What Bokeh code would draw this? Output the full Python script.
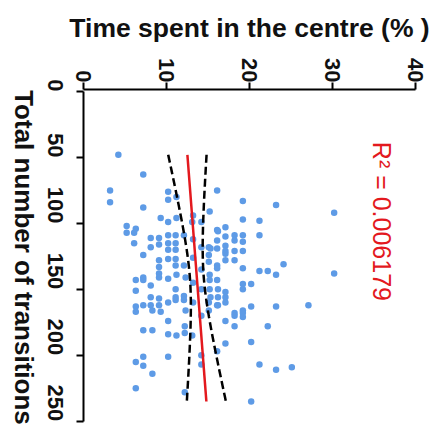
import numpy as np
from math import pi
from bokeh.plotting import figure
from bokeh.layouts import row
from bokeh.models import Range1d, Label, FixedTicker
from bokeh.embed import file_html
from bokeh.resources import INLINE

# ---- data ----
time_pct = [
    4.2, 3.2, 3.2, 7.2, 7.2, 10.2, 10.2, 11.2, 16.1, 19.2, 23.2, 30.2, 15.2, 9.3, 10.2, 11.2,
    13.2, 13.1, 14.2, 5.2, 6.3, 19.2, 21.2, 16.1, 17.1, 5.2, 6.1, 6.1, 7.2, 8.1, 8.1, 9.1,
    9.1, 10.2, 10.2, 10.2, 11.1, 11.1, 11.1, 9.1, 9.1, 10.2, 11.1, 11.1, 12.1, 15.1, 15.1, 15.1,
    6.3, 6.3, 7.2, 7.2, 8.1, 9.1, 9.1, 10.2, 11.2, 11.1, 12.3, 8.1, 8.1, 9.1, 9.1, 10.2,
    11.1, 11.1, 12.1, 12.1, 6.3, 6.3, 7.2, 12.3, 16.1, 16.2, 17.1, 18.2, 18.2, 19.2, 19.2, 21.2,
    15.3, 16.1, 17.1, 17.1, 17.1, 18.2, 19.2, 16.1, 17.1, 18.2, 19.2, 21.2, 22.2, 23.2, 24.1, 30.2,
    15.2, 15.2, 15.2, 16.1, 16.2, 16.2, 17.1, 17.1, 19.2, 19.2, 20.2, 15.3, 16.2, 17.1, 20.2, 23.2,
    27.1, 18.2, 19.2, 19.2, 8.3, 9.3, 10.2, 7.2, 8.3, 10.2, 11.2, 12.2, 12.2, 7.2, 6.3, 7.2,
    8.3, 10.2, 14.2, 14.2, 16.1, 6.3, 12.2, 17.1, 18.2, 18.2, 19.2, 22.2, 17.1, 20.2, 21.2, 23.2,
    25.1, 20.2, 12.1, 16.1, 16.1, 15.1, 15.1, 13.2, 14.2, 13.2, 14.2, 13.2, 14.2, 13.2, 14.2, 13.1,
]
transitions = [
    48, 75, 84, 63, 88, 76, 82, 80, 75, 83, 86, 92, 91, 96, 99, 96,
    94, 99, 99, 102, 104, 97, 98, 105, 103, 107, 107, 115, 124, 111, 118, 111,
    116, 109, 115, 120, 109, 115, 120, 128, 133, 127, 127, 132, 132, 118, 124, 129,
    143, 151, 141, 143, 147, 138, 141, 142, 139, 150, 141, 156, 162, 157, 162, 160,
    156, 158, 155, 158, 163, 167, 162, 166, 162, 106, 110, 109, 113, 109, 114, 109,
    119, 119, 117, 121, 123, 121, 121, 132, 128, 128, 134, 136, 136, 139, 131, 138,
    139, 143, 150, 143, 150, 156, 152, 156, 146, 150, 146, 156, 162, 160, 163, 163,
    162, 168, 166, 168, 166, 167, 174, 181, 181, 184, 185, 178, 183, 201, 205, 208,
    214, 201, 200, 207, 197, 225, 228, 174, 170, 178, 171, 178, 191, 190, 207, 211,
    209, 235, 109, 113, 134, 160, 166, 112, 118, 126, 135, 145, 150, 160, 170, 185,
]
fit_intercept = 11.93      # time = a + b * transitions
fit_slope = 0.01223
r2_text = "R\u00b2 = 0.006179"
x_title = "Time spent in the centre (% )"
y_title = "Total number of transitions"
x_ticks = [0, 10, 20, 30, 40]
y_ticks = [0, 50, 100, 150, 200, 250]

t_arr = np.array(time_pct, float)
n_arr = np.array(transitions, float)

# regression line and 95% confidence band
xs = np.linspace(n_arr.min(), n_arr.max(), 120)
fit = fit_intercept + fit_slope * xs
resid = t_arr - (fit_intercept + fit_slope * n_arr)
n = len(n_arr)
s = np.sqrt(np.sum(resid ** 2) / (n - 2))
xbar = n_arr.mean()
sxx = np.sum((n_arr - xbar) ** 2)
hw = 1.97 * s * np.sqrt(1.0 / n + (xs - xbar) ** 2 / sxx)

FONT = "Liberation Sans"

y_rng = Range1d(257, -1.5)

p = figure(width=409, height=443, output_backend="svg", toolbar_location=None,
           x_range=Range1d(0, 40), y_range=y_rng,
           x_axis_location="above", y_axis_location="left",
           min_border_left=47, min_border_right=30, min_border_top=89, min_border_bottom=13)
p.outline_line_color = None
p.xgrid.grid_line_color = None
p.ygrid.grid_line_color = None
p.background_fill_color = "white"
p.border_fill_color = "white"

for ax in (p.xaxis[0], p.yaxis[0]):
    ax.minor_tick_line_color = None
    ax.major_tick_in = 0
    ax.major_tick_out = 7
    ax.axis_line_width = 2
    ax.major_tick_line_width = 2
    ax.axis_line_color = "black"
    ax.major_tick_line_color = "black"
    ax.major_label_text_font = FONT
    ax.major_label_text_font_size = "22px"
    ax.major_label_text_font_style = "bold"
    ax.major_label_text_color = "#111111"
    ax.major_label_orientation = -pi / 2

p.xaxis.ticker = FixedTicker(ticks=x_ticks)
p.yaxis.ticker = FixedTicker(ticks=y_ticks)
p.yaxis.bounds = (0, 250)
p.xaxis.major_label_standoff = 0
p.yaxis.major_label_standoff = 21

p.xaxis.axis_label = x_title
p.xaxis.axis_label_text_font = FONT
p.xaxis.axis_label_text_font_size = "26.5px"
p.xaxis.axis_label_text_font_style = "bold"
p.xaxis.axis_label_text_color = "#111111"
p.xaxis.axis_label_standoff = 12

p.scatter(time_pct, transitions, size=6.5, fill_color="#5e9be6", line_color=None)
p.line(fit, xs, line_color="#e3191e", line_width=2.5)
p.line(fit - hw, xs, line_color="black", line_width=2.5, line_dash="8 4")
p.line(fit + hw, xs, line_color="black", line_width=2.5, line_dash="8 4")

p.add_layout(Label(x=36.0, y=98.5, text=r2_text, angle=-pi / 2,
                   text_align="center", text_baseline="middle", text_font=FONT,
                   text_font_size="25px", text_color="#e3191e"))

# narrow strip on the left that carries the rotated y-axis title (shares the y scale)
side = figure(width=36, height=443, output_backend="svg", toolbar_location=None,
              x_range=Range1d(0, 36), y_range=y_rng,
              x_axis_location=None, y_axis_location=None,
              min_border_left=0, min_border_right=0, min_border_top=89, min_border_bottom=13)
side.outline_line_color = None
side.xgrid.grid_line_color = None
side.ygrid.grid_line_color = None
side.add_layout(Label(x=23, y=-1.0, text=y_title, angle=-pi / 2,
                      text_align="left", text_baseline="middle", text_font=FONT,
                      text_font_size="26px", text_font_style="bold", text_color="#111111"))

layout = row(side, p, spacing=0)
open("out.html", "w").write(file_html(layout, INLINE))
